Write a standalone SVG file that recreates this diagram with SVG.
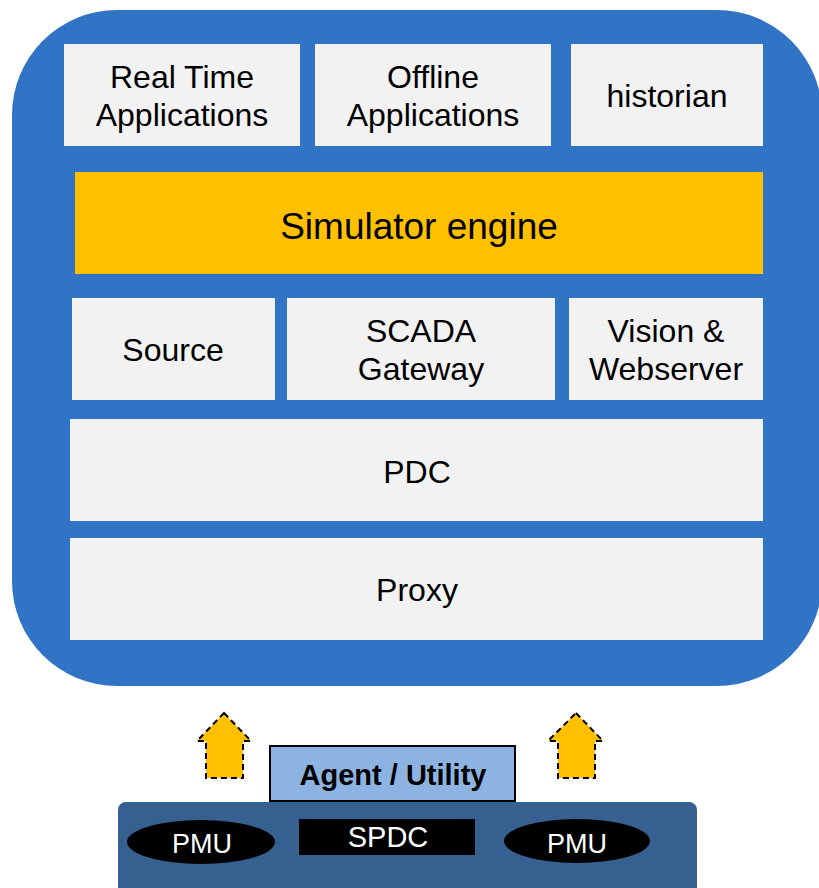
<svg xmlns="http://www.w3.org/2000/svg" width="819" height="888" viewBox="0 0 819 888">
<style>
.box{fill:#f2f2f2}
.t{font-family:"Liberation Sans",Arial,sans-serif;font-size:32px;fill:#000;text-anchor:middle}
.w{font-family:"Liberation Sans",Arial,sans-serif;font-size:29px;fill:#fff;text-anchor:middle}
.arr{fill:#ffc000;stroke:#000;stroke-width:2;stroke-dasharray:6,4}
</style>
<rect id="platform" x="12" y="10" width="810" height="676" rx="105" ry="105" fill="#3173c4"/>
<g id="rta"><rect class="box" x="64" y="44" width="236" height="102"/><text class="t" x="182" y="88">Real Time</text><text class="t" x="182" y="126">Applications</text></g>
<g id="offline"><rect class="box" x="315" y="44" width="236" height="102"/><text class="t" x="433" y="88">Offline</text><text class="t" x="433" y="126">Applications</text></g>
<g id="historian"><rect class="box" x="571" y="44" width="192" height="102"/><text class="t" x="667" y="107">historian</text></g>
<g id="simulator"><rect x="75" y="172" width="688" height="102" fill="#ffc000"/><text class="t" x="419" y="239" style="font-size:37px">Simulator engine</text></g>
<g id="source"><rect class="box" x="72" y="298" width="203" height="102"/><text class="t" x="173" y="361">Source</text></g>
<g id="scada"><rect class="box" x="287" y="298" width="268" height="102"/><text class="t" x="421" y="342">SCADA</text><text class="t" x="421" y="380">Gateway</text></g>
<g id="vision"><rect class="box" x="569" y="298" width="194" height="102"/><text class="t" x="666" y="342">Vision &amp;</text><text class="t" x="666" y="380">Webserver</text></g>
<g id="pdc"><rect class="box" x="70" y="419" width="693" height="102"/><text class="t" x="417" y="483">PDC</text></g>
<g id="proxy"><rect class="box" x="70" y="538" width="693" height="102"/><text class="t" x="417" y="601">Proxy</text></g>
<g id="connectors">
<path class="arr" d="M224,713 L251,741 L243,741 L243,778 L206,778 L206,741 L197,741 Z"/>
<path class="arr" d="M576,713 L603,741 L595,741 L595,778 L558,778 L558,741 L548,741 Z"/>
</g>
<g id="field"><rect x="118" y="802" width="579" height="95" rx="8" fill="#36608f"/></g>
<g id="agent"><rect x="270" y="746" width="245" height="55" fill="#8db3e2" stroke="#000" stroke-width="2"/><text class="t" x="393" y="785" style="font-weight:bold;font-size:29px">Agent / Utility</text></g>
<g id="pmu1"><ellipse cx="201" cy="842" rx="74" ry="22" fill="#000"/><text class="w" x="202" y="853" style="font-size:27px">PMU</text></g>
<g id="spdc"><rect x="299" y="819" width="176" height="36" fill="#000"/><text class="w" x="388" y="847">SPDC</text></g>
<g id="pmu2"><ellipse cx="577" cy="841" rx="73" ry="22" fill="#000"/><text class="w" x="577" y="853" style="font-size:27px">PMU</text></g>
</svg>
